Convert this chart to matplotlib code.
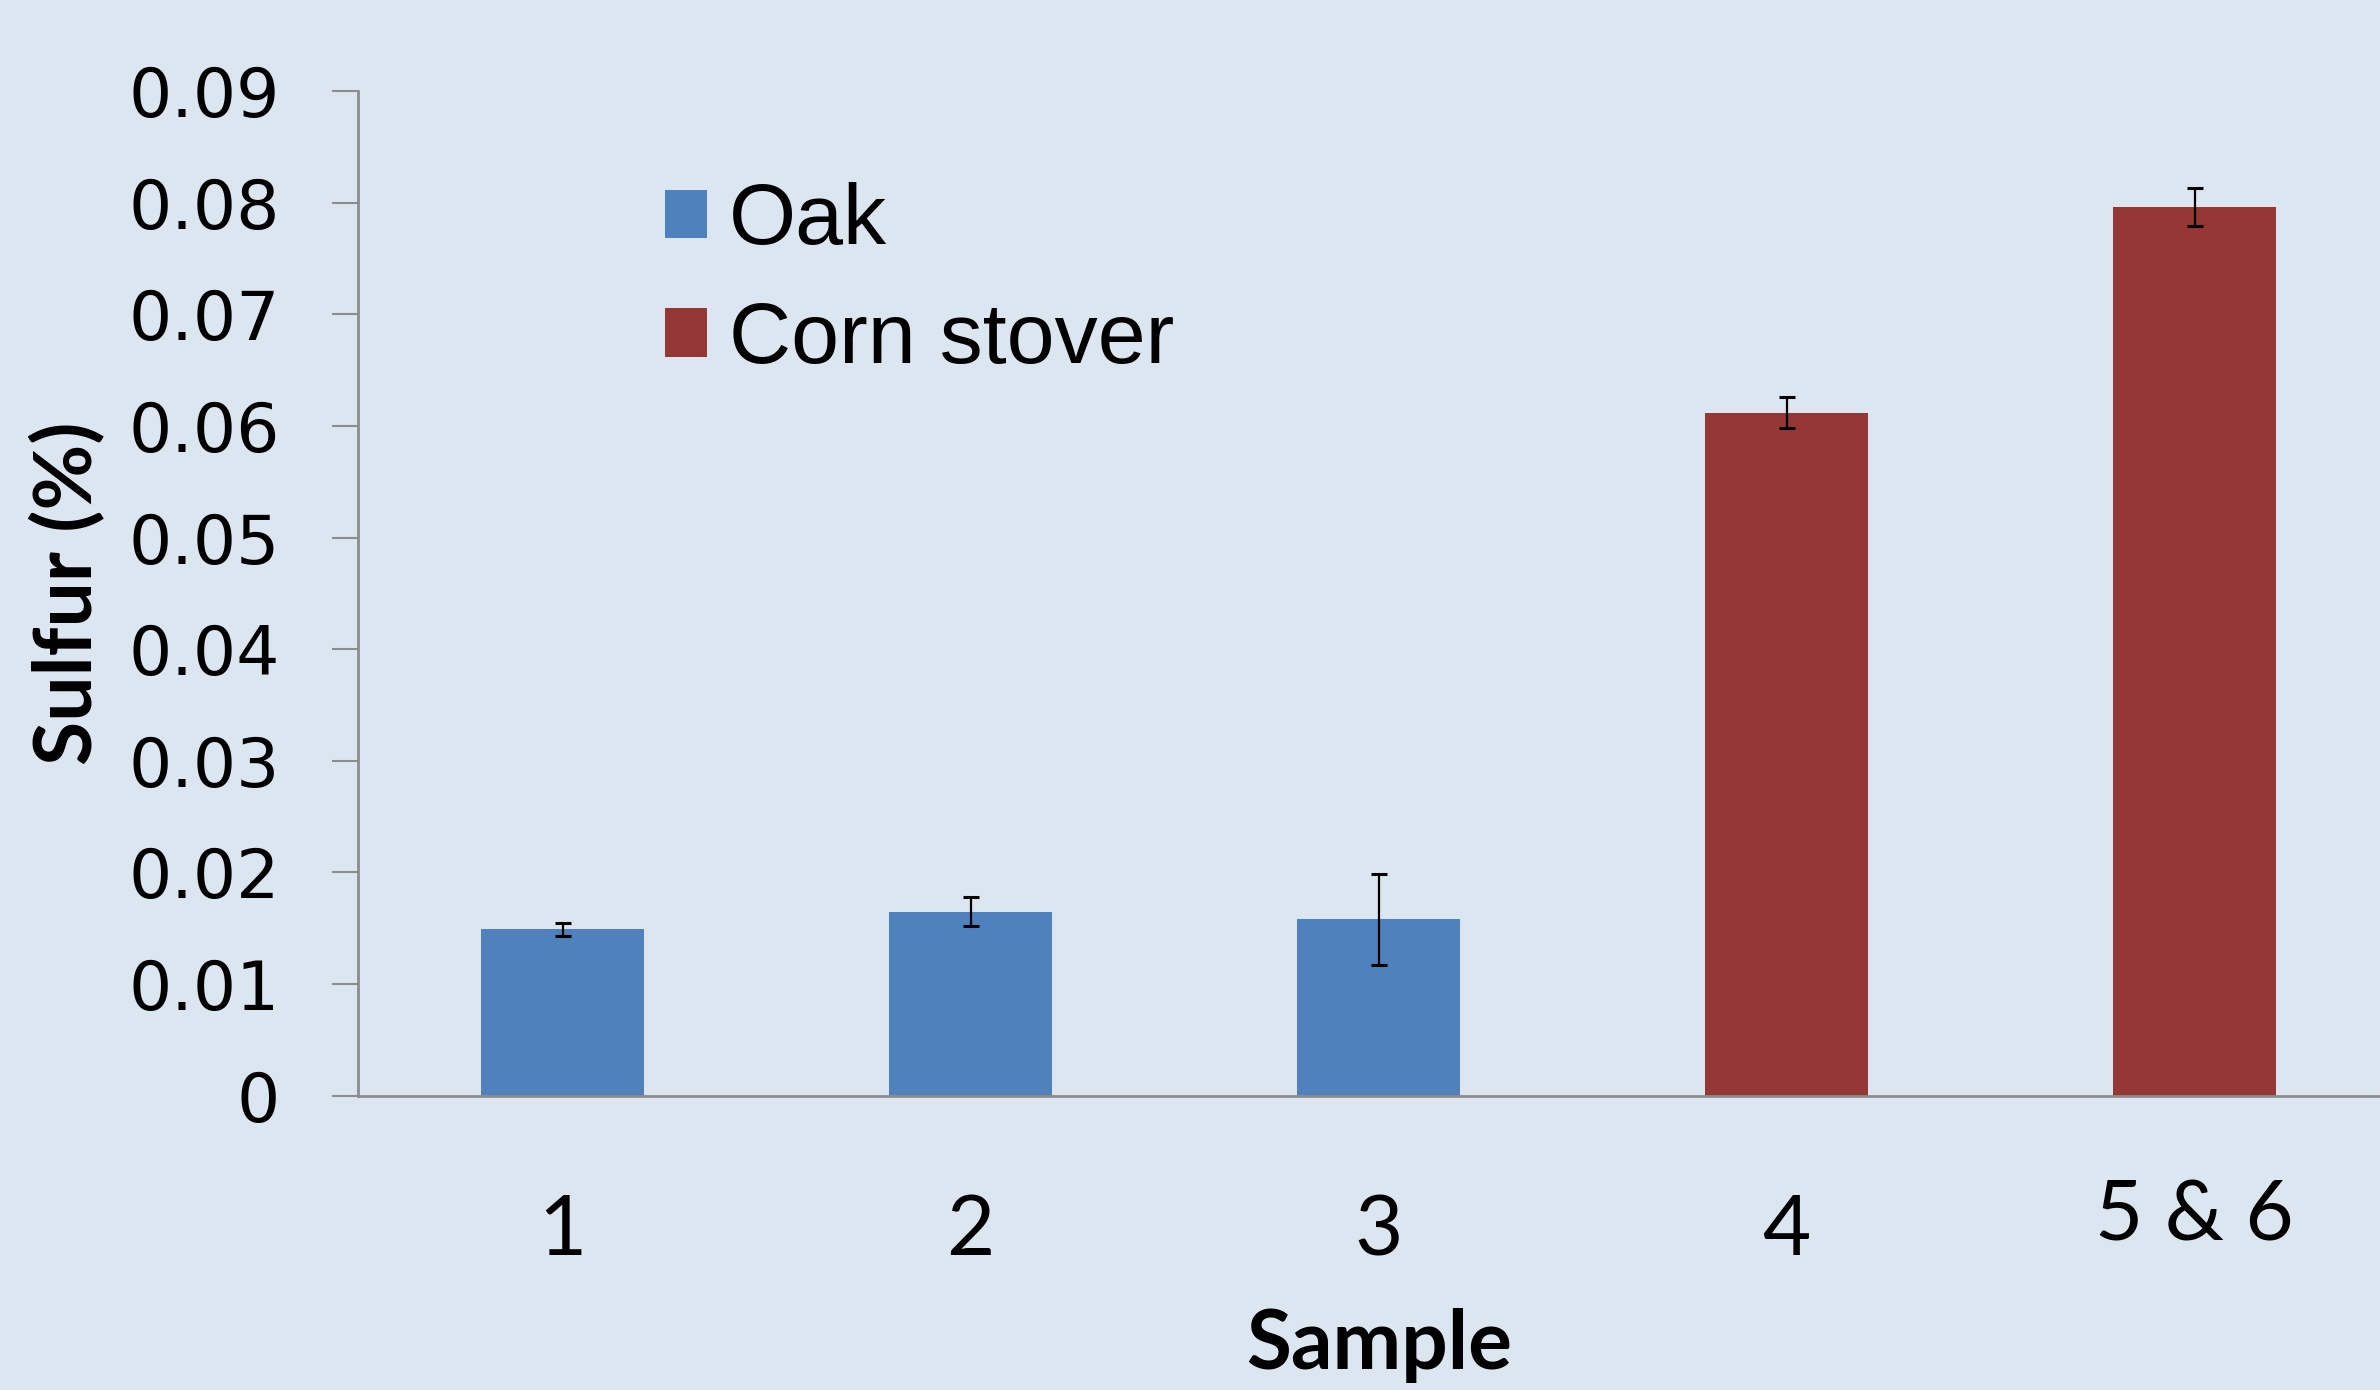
import matplotlib
matplotlib.use("Agg")
import matplotlib.pyplot as plt
from matplotlib.patches import Patch
from matplotlib.transforms import ScaledTranslation

samples = ["1", "2", "3", "4", "5 & 6"]
sulfur = [0.0149, 0.0165, 0.0158, 0.0612, 0.0796]
errors = [0.0006, 0.0013, 0.0041, 0.0014, 0.0017]
groups = ["Oak", "Oak", "Oak", "Corn stover", "Corn stover"]
yticks = [0, 0.01, 0.02, 0.03, 0.04, 0.05, 0.06, 0.07, 0.08, 0.09]
ytick_labels = ["0", "0.01", "0.02", "0.03", "0.04", "0.05", "0.06", "0.07", "0.08", "0.09"]

colors = {"Oak": "#4F81BD", "Corn stover": "#953735"}
bg = "#DCE6F1"

fig = plt.figure(figsize=(23.8, 13.9), dpi=100, facecolor=bg)
ax = fig.add_axes([0.1504, 0.2117, 0.8496, 0.7228])
ax.set_facecolor(bg)

x = list(range(len(samples)))
ax.bar(x, sulfur, width=0.4, color=[colors[g] for g in groups], zorder=2)
ax.errorbar(x, sulfur, yerr=errors, fmt="none", ecolor="black", elinewidth=1.6,
            capsize=6, capthick=2.2, zorder=3)

ax.set_xlim(-0.502, 4.454)
ax.set_ylim(0, 0.09)
ax.set_yticks(yticks)
ax.set_yticklabels(ytick_labels, fontfamily="DejaVu Sans", fontsize=49)
ax.set_xticks(x)
ax.set_xticklabels(samples, fontfamily="Lato", fontsize=60)

for s in ["top", "right"]:
    ax.spines[s].set_visible(False)
for s in ["left", "bottom"]:
    ax.spines[s].set_color("#8C8C8C")
    ax.spines[s].set_linewidth(2)
ax.tick_params(axis="y", length=19, width=1.5, color="#8C8C8C", pad=37)
ax.tick_params(axis="x", length=0, pad=71)

lab = ax.get_xticklabels()[-1]
lab.set_transform(lab.get_transform() + ScaledTranslation(0, 11 / 72, fig.dpi_scale_trans))

ax.set_ylabel("Sulfur (%)", fontfamily="Lato", fontweight="bold", fontsize=58, labelpad=16)
ax.set_xlabel("Sample", fontfamily="Lato", fontweight="bold", fontsize=59, labelpad=27)
ax.xaxis.label.set_x(2.502 / 4.956)

handles = [Patch(facecolor=colors["Oak"]), Patch(facecolor=colors["Corn stover"])]
ax.legend(handles, ["Oak", "Corn stover"], loc="upper left", bbox_to_anchor=(0.152, 0.909),
          frameon=False, prop={"family": "Liberation Sans", "size": 62},
          handlelength=0.49, handleheight=0.49, handletextpad=0.25, labelspacing=0.45,
          borderpad=0, borderaxespad=0)

fig.savefig("out.png", dpi=100, facecolor=bg)
